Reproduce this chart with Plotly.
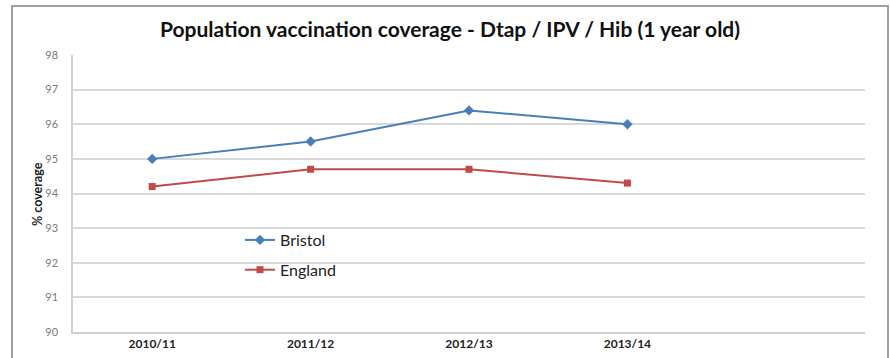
import plotly.graph_objects as go

categories = ["2010/11", "2011/12", "2012/13", "2013/14", ""]
bristol = [95.0, 95.5, 96.4, 96.0]
england = [94.2, 94.7, 94.7, 94.3]
y_ticks = [90, 91, 92, 93, 94, 95, 96, 97, 98]

xpos = list(range(len(categories)))

fig = go.Figure()
fig.add_trace(go.Scatter(
    x=xpos[:len(bristol)], y=bristol, name="Bristol", mode="lines+markers",
    line=dict(color="#4a7ebb", width=2),
    marker=dict(symbol="diamond", size=8, color="#4a7ebb"),
    legendgroup="a"))
fig.add_trace(go.Scatter(
    x=xpos[:len(england)], y=england, name="England", mode="lines+markers",
    line=dict(color="#be4b48", width=2),
    marker=dict(symbol="square", size=7, color="#be4b48"),
    legendgroup="b"))

L, R, T, B = 73, 25, 55, 26
W, H = 890, 358
pw, ph = W - L - R, H - T - B

def px2x(px):
    return (px - L) / pw

def py2y(py):
    return (H - B - py) / ph

fig.add_shape(type="rect", xref="paper", yref="paper",
              x0=px2x(12), x1=px2x(888), y0=py2y(420), y1=py2y(6),
              line=dict(color="#a0a0a0", width=2), fillcolor="rgba(0,0,0,0)",
              layer="below")
# white legend area covering gridlines
fig.add_shape(type="rect", xref="paper", yref="paper",
              x0=px2x(222), x1=px2x(360), y0=py2y(288), y1=py2y(208),
              line=dict(width=0), fillcolor="white", layer="between")

fig.add_annotation(text="<b>% coverage</b>", xref="paper", yref="paper",
                   x=px2x(37), y=py2y(194), textangle=-90, showarrow=False,
                   xanchor="center", yanchor="middle",
                   font=dict(size=12.5, color="#222"))

fig.update_layout(
    width=W, height=H,
    margin=dict(l=L, r=R, t=T, b=B, autoexpand=False),
    paper_bgcolor="white", plot_bgcolor="white",
    font=dict(family="Lato, sans-serif", color="#222"),
    title=dict(text="<b>Population vaccination coverage - Dtap / IPV / Hib (1 year old)</b>",
               x=0.5 + 5 / W, xref="container", xanchor="center", y=1 - 30 / H, yanchor="middle",
               yref="container", automargin=False,
               font=dict(size=21, color="#111")),
    xaxis=dict(range=[-0.5, 4.5], tickvals=xpos, ticktext=[f"<b>{c}</b>" for c in categories],
               showgrid=False, zeroline=False, showline=True, linecolor="#d0d0d0", linewidth=1.5,
               ticks="", tickfont=dict(size=12, color="#222"), automargin=False),
    yaxis=dict(range=[90, 98], tickvals=y_ticks, showgrid=True, gridcolor="#d9d9d9", gridwidth=1.5,
               zeroline=False, showline=True, linecolor="#d0d0d0", linewidth=1.5, ticks="",
               tickfont=dict(size=11, color="#7a7a7a"), ticklabelstandoff=11, automargin=False),
    legend=dict(x=px2x(240), y=py2y(223), xanchor="left", yanchor="top",
                bgcolor="rgba(0,0,0,0)", borderwidth=0, tracegroupgap=6,
                font=dict(size=16, color="#222"), itemwidth=30),
    showlegend=True,
)

fig.write_html("out.html", config={"displayModeBar": False},
               post_script="document.body.style.margin='0';document.body.style.padding='0';")
